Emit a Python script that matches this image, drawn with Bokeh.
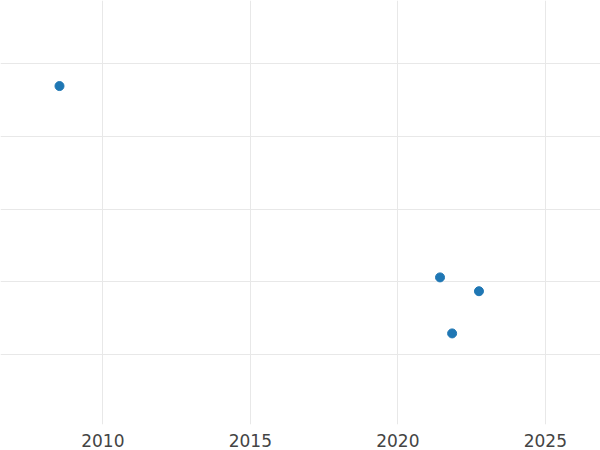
from bokeh.plotting import figure
from bokeh.models import FixedTicker, ColumnDataSource, Range1d
from bokeh.embed import file_html
from bokeh.resources import INLINE

years = [2008.53, 2021.43, 2022.75, 2021.84]
values = [46.9, 20.6, 18.7, 12.9]
x_ticks = [2010, 2015, 2020, 2025]
y_ticks = [10, 20, 30, 40, 50]

src = ColumnDataSource(dict(x=years, y=values))

p = figure(width=600, height=450, output_backend="svg", toolbar_location=None,
           x_range=Range1d(2006.53, 2026.87), y_range=Range1d(0.38, 58.66),
           min_border=0, min_border_left=0, min_border_right=0, min_border_top=0, min_border_bottom=0)
p.frame_width = 600
p.frame_height = 424

p.scatter("x", "y", source=src, size=9, color="#1f77b4")

p.outline_line_color = None
p.yaxis.visible = False
p.xaxis.ticker = FixedTicker(ticks=x_ticks)
p.yaxis.ticker = FixedTicker(ticks=y_ticks)
p.ygrid.ticker = FixedTicker(ticks=y_ticks)
p.xgrid.ticker = FixedTicker(ticks=x_ticks)
p.xaxis.axis_line_color = None
p.xaxis.major_tick_line_color = None
p.xaxis.minor_tick_line_color = None
p.xaxis.major_label_text_font = "DejaVu Sans"
p.xaxis.major_label_text_font_size = "17px"
p.xaxis.major_label_text_color = "#444444"
p.xaxis.major_label_standoff = 3
p.grid.grid_line_color = "#e8e8e8"
p.grid.grid_line_width = 1

open("out.html", "w").write(file_html(p, INLINE))
